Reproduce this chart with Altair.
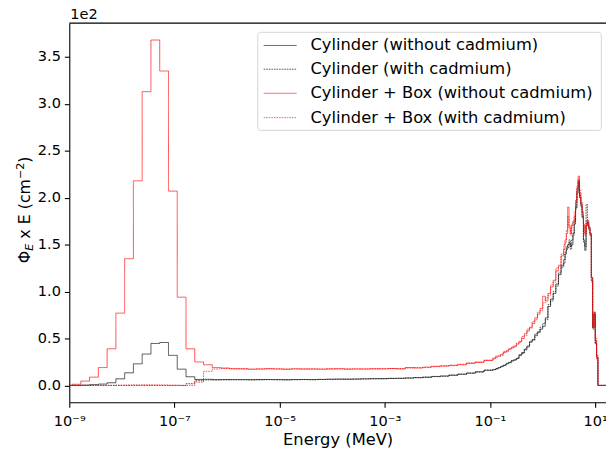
import altair as alt
import numpy as np
import pandas as pd

# ---------------- data ----------------
names = [
    "Cylinder (without cadmium)",
    "Cylinder (with cadmium)",
    "Cylinder + Box (without cadmium)",
    "Cylinder + Box (with cadmium)",
]

# bin edges in log10(MeV): thermal bins (1/6 decade), epithermal (1/6 decade),
# fast (0.05 decade), peak region (0.025 decade), final empty bin
edges_thermal = [-9.0] + [-8.947 + k / 6 for k in range(17)]
edges_epi = [-6.28 + k / 6 for k in range(1, 33)]
edges_fast = [-0.947 + 0.05 * k for k in range(1, 28)]
edges_peak = [0.403 + 0.025 * k for k in range(1, 27)]
edges_end = [1.207]
edges = edges_thermal + edges_epi + edges_fast + edges_peak + edges_end

# values (x 1e2 cm^-2), per bin
cyl_th = [0.0, 0.0, 0.003, 0.008, 0.014, 0.028, 0.07, 0.134, 0.23, 0.334, 0.447, 0.457, 0.32, 0.173, 0.092, 0.063, 0.065]
cylcd_th = [0.0] * 14 + [0.018, 0.05, 0.058]
box_th = [0.0, 0.012, 0.046, 0.088, 0.19, 0.39, 0.77, 1.35, 2.18, 3.13, 3.68, 3.35, 2.07, 0.94, 0.39, 0.25, 0.22]
boxcd_th = [0.0, 0.0, 0.0, 0.0, 0.0, 0.0, 0.002, 0.004, 0.005, 0.006, 0.005, 0.004, 0.002, 0.0, 0.0, 0.035, 0.15]

cyl_epi = [0.060, 0.062, 0.061, 0.062, 0.060, 0.061, 0.063, 0.062, 0.059, 0.062, 0.063, 0.061, 0.064, 0.066, 0.067, 0.066,
           0.068, 0.070, 0.071, 0.072, 0.074, 0.076, 0.078, 0.082, 0.088, 0.094, 0.100, 0.108, 0.120, 0.130, 0.145, 0.160]
cylcd_epi = [0.060, 0.060, 0.062, 0.060, 0.061, 0.062, 0.061, 0.060, 0.062, 0.061, 0.062, 0.062, 0.063, 0.065, 0.066, 0.067,
             0.067, 0.069, 0.072, 0.071, 0.075, 0.075, 0.080, 0.084, 0.086, 0.096, 0.098, 0.110, 0.118, 0.132, 0.142, 0.165]
box_epi = [0.190, 0.185, 0.178, 0.176, 0.172, 0.176, 0.178, 0.175, 0.172, 0.177, 0.174, 0.176, 0.172, 0.175, 0.178, 0.173,
           0.176, 0.174, 0.178, 0.176, 0.180, 0.175, 0.190, 0.185, 0.195, 0.200, 0.205, 0.215, 0.220, 0.235, 0.245, 0.265]
boxcd_epi = [0.175, 0.180, 0.176, 0.178, 0.174, 0.173, 0.177, 0.176, 0.174, 0.175, 0.176, 0.173, 0.175, 0.177, 0.175, 0.176,
             0.174, 0.176, 0.175, 0.178, 0.178, 0.180, 0.185, 0.190, 0.190, 0.205, 0.210, 0.210, 0.225, 0.240, 0.250, 0.270]

cyl_fast = [0.17, 0.175, 0.19, 0.20, 0.215, 0.23, 0.245, 0.26, 0.27, 0.29, 0.32, 0.35, 0.38, 0.42, 0.46, 0.49, 0.53, 0.57,
            0.60, 0.63, 0.72, 0.84, 0.92, 0.98, 1.08, 1.18, 1.28]
cylcd_fast = [0.165, 0.18, 0.185, 0.205, 0.21, 0.235, 0.24, 0.265, 0.275, 0.285, 0.33, 0.34, 0.39, 0.41, 0.47, 0.48, 0.55,
              0.56, 0.62, 0.66, 0.70, 0.86, 0.90, 1.00, 1.06, 1.20, 1.26]
box_fast = [0.29, 0.30, 0.31, 0.33, 0.35, 0.37, 0.385, 0.40, 0.42, 0.44, 0.47, 0.50, 0.55, 0.58, 0.62, 0.66, 0.72, 0.76,
            0.82, 0.95, 0.90, 0.98, 1.05, 1.12, 1.22, 1.28, 1.38]
boxcd_fast = [0.28, 0.31, 0.32, 0.32, 0.36, 0.36, 0.39, 0.41, 0.41, 0.45, 0.46, 0.52, 0.53, 0.60, 0.61, 0.68, 0.70, 0.78,
              0.80, 0.88, 0.93, 0.96, 1.07, 1.10, 1.25, 1.26, 1.40]

cyl_peak = [1.34, 1.40, 1.45, 1.50, 1.52, 1.48, 1.50, 1.62, 1.72, 1.90, 2.05, 2.18, 2.00, 1.93, 1.80, 1.55, 1.44, 1.70,
            1.74, 1.68, 1.60, 1.15, 0.62, 0.76, 0.45, 0.30]
cylcd_peak = [1.30, 1.42, 1.48, 1.47, 1.55, 1.45, 1.55, 1.60, 1.75, 1.88, 2.08, 2.16, 2.02, 1.90, 1.78, 1.52, 1.48, 1.93,
              1.72, 1.66, 1.62, 1.12, 0.60, 0.78, 0.44, 0.32]
box_peak = [1.45, 1.55, 1.62, 1.90, 1.68, 1.62, 1.70, 1.75, 1.80, 1.95, 2.10, 2.23, 2.05, 1.95, 1.85, 1.70, 1.62, 1.72,
            1.76, 1.68, 1.62, 1.15, 0.62, 0.78, 0.48, 0.30]
boxcd_peak = [1.50, 1.52, 1.65, 1.80, 1.70, 1.60, 1.72, 1.74, 1.85, 1.98, 2.12, 2.20, 2.08, 1.92, 1.82, 1.72, 1.60, 1.75,
              1.72, 1.70, 1.60, 1.10, 0.65, 0.75, 0.50, 0.28]

tail = [0.0]

series_values = {
    names[0]: cyl_th + cyl_epi + cyl_fast + cyl_peak + tail,
    names[1]: cylcd_th + cylcd_epi + cylcd_fast + cylcd_peak + tail,
    names[2]: box_th + box_epi + box_fast + box_peak + tail,
    names[3]: boxcd_th + boxcd_epi + boxcd_fast + boxcd_peak + tail,
}

colors = ["#000000", "#000000", "#ff0000", "#ff0000"]
dashes = [[1, 0], [1.6, 1.0], [1, 0], [1.6, 1.0]]
opac = [0.85, 0.85, 0.8, 0.8]

xtick_vals = [1e-9, 1e-7, 1e-5, 1e-3, 1e-1, 1e1]
xtick_labels = ["10⁻⁹", "10⁻⁷", "10⁻⁵", "10⁻³", "10⁻¹", "10¹"]
ytick_vals = [0.0, 0.5, 1.0, 1.5, 2.0, 2.5, 3.0, 3.5]

# ---------------- build table ----------------
rows = []
for s, vals in series_values.items():
    nb = len(edges) - 1
    assert len(vals) == nb, (s, len(vals), nb)
    for i in range(nb):
        rows.append({"E": 10 ** edges[i], "v": vals[i], "series": s, "ord": names.index(s)})
    rows.append({"E": 10 ** edges[-1], "v": vals[-1], "series": s, "ord": names.index(s)})
df = pd.DataFrame(rows)

W = 543
H = 383.6
FONT = "DejaVu Sans"

# label expression for log ticks
expr = "''"
for v, lab in reversed(list(zip(xtick_vals, xtick_labels))):
    expr = f"(datum.value > {v/3} && datum.value < {v*3}) ? '{lab}' : ({expr})"

lines = alt.Chart(df).mark_line(interpolate="step-after", strokeWidth=0.8, clip=True).encode(
    x=alt.X("E:Q",
            scale=alt.Scale(type="log", domain=[1e-9, 10 ** 1.207], nice=False),
            axis=alt.Axis(values=xtick_vals, labelExpr=expr, title="Energy (MeV)", titlePadding=4,
                          labelPadding=6, labelFlush=False, labelOverlap=False)),
    y=alt.Y("v:Q",
            scale=alt.Scale(domain=[-0.18, 3.86], nice=False, zero=False),
            axis=alt.Axis(values=ytick_vals, format=".1f", title=None, labelPadding=4, labelFlush=False)),
    color=alt.Color("series:N", scale=alt.Scale(domain=names, range=colors), legend=None),
    strokeDash=alt.StrokeDash("series:N", scale=alt.Scale(domain=names, range=dashes), legend=None),
    opacity=alt.Opacity("series:N", scale=alt.Scale(domain=names, range=opac), legend=None),
    order=alt.Order("ord:Q"),
)

one = pd.DataFrame({"a": [0]})

top_spine = alt.Chart(one).mark_rule(color="black", strokeWidth=1.1).encode(
    x=alt.value(0), x2=alt.value(W), y=alt.value(0)
)

offset_text = alt.Chart(one).mark_text(text="1e2", font=FONT, fontSize=14.7, align="left",
                                       baseline="alphabetic", color="black").encode(
    x=alt.value(1), y=alt.value(-4.5)
)

# y-axis title: Φ_E x E (cm^-2), built from pieces (rotated, reading upward)
YF = 16.0
YS = 11.2
y_phi = 243.0
y_sub = y_phi - 0.80 * YF
y_main = y_sub - 0.632 * YS - 0.318 * YF
y_sup = y_main - 3.774 * YF
y_close = y_sup - 1.474 * YS
XB = -40.0


def ytext(txt, size, yy, xx, style="normal"):
    return alt.Chart(one).mark_text(text=txt, font=FONT, fontSize=size, fontStyle=style, angle=270,
                                    align="left", baseline="alphabetic", color="black").encode(
        x=alt.value(xx), y=alt.value(yy))


yt = [
    ytext("Φ", YF, y_phi, XB),
    ytext("E", YS, y_sub, XB + 3.5, "italic"),
    ytext("x\u00a0E\u00a0(cm", YF, y_main, XB),
    ytext("−2", YS, y_sup, XB - 5.8),
    ytext(")", YF, y_close, XB),
]

# legend
leg_box = alt.Chart(one).mark_rect(fill="white", fillOpacity=0.8, stroke="#d4d4d4", strokeWidth=1,
                                   cornerRadius=3).encode(
    x=alt.value(190.7), x2=alt.value(538.3), y=alt.value(9.3), y2=alt.value(108.5)
)
leg_y = [22.6, 46.6, 71.0, 95.6]
leg_layers = []
for i, nm in enumerate(names):
    leg_layers.append(
        alt.Chart(one).mark_rule(color=colors[i], strokeWidth=0.8, strokeDash=dashes[i], opacity=opac[i]).encode(
            x=alt.value(196.7), x2=alt.value(230), y=alt.value(leg_y[i])
        )
    )
    leg_layers.append(
        alt.Chart(one).mark_text(text=nm, font=FONT, fontSize=16.5, align="left", baseline="middle",
                                 color="black").encode(x=alt.value(244), y=alt.value(leg_y[i]))
    )

chart = alt.layer(lines, top_spine, offset_text, *yt, leg_box, *leg_layers).properties(
    width=W, height=H,
    padding={"left": 62, "top": 12.7, "right": 0, "bottom": 50},
    autosize=alt.AutoSizeParams(type="none"),
).configure_view(stroke=None).configure_axis(
    domainColor="black", domainWidth=1.1, tickColor="black", tickWidth=1.1, tickSize=5,
    labelFont=FONT, labelFontSize=14.7, labelColor="black",
    titleFont=FONT, titleFontSize=16.5, titleFontWeight="normal", titleColor="black",
    grid=False,
)

chart.save("out.html", embed_options={"renderer": "svg", "actions": False})
